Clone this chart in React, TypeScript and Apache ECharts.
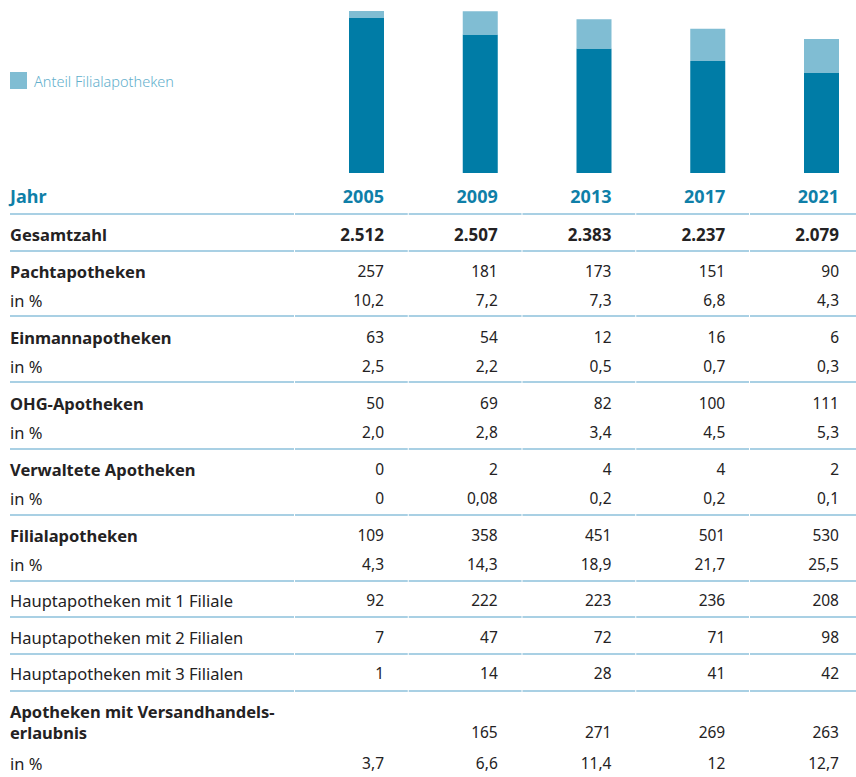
import React, { useEffect, useRef } from "react";
import * as echarts from "echarts";

const years = ["2005", "2009", "2013", "2017", "2021"];
const gesamtzahl = [2512, 2507, 2383, 2237, 2079];
const pachtapotheken = [257, 181, 173, 151, 90];
const pachtProzent = ["10,2", "7,2", "7,3", "6,8", "4,3"];
const einmannapotheken = [63, 54, 12, 16, 6];
const einmannProzent = ["2,5", "2,2", "0,5", "0,7", "0,3"];
const ohgApotheken = [50, 69, 82, 100, 111];
const ohgProzent = ["2,0", "2,8", "3,4", "4,5", "5,3"];
const verwalteteApotheken = [0, 2, 4, 4, 2];
const verwalteteProzent = ["0", "0,08", "0,2", "0,2", "0,1"];
const filialapotheken = [109, 358, 451, 501, 530];
const filialProzent = ["4,3", "14,3", "18,9", "21,7", "25,5"];
const hauptMit1 = [92, 222, 223, 236, 208];
const hauptMit2 = [7, 47, 72, 71, 98];
const hauptMit3 = [1, 14, 28, 41, 42];
const versandhandel: (number | null)[] = [null, 165, 271, 269, 263];
const versandProzent = ["3,7", "6,6", "11,4", "12", "12,7"];

const fmt = (v: number | null | string) => {
  if (v === null) return "";
  if (typeof v === "string") return v;
  const s = String(v);
  return s.replace(/\B(?=(\d{3})+(?!\d))/g, ".");
};

const FONT = "'Noto Sans', sans-serif";
const DARK = "#007ca6";
const LIGHT = "#80bdd3";
const TEXT = "#242223";
const LINE = "#a9d0e4";
const BLUE_TEXT = "#0f7fa8";

type Row = { label: string[]; bold: boolean; values: (number | null | string)[]; y: number; boldValues?: boolean };

const rows: Row[] = [
  { label: ["Gesamtzahl"], bold: true, values: gesamtzahl, y: 234, boldValues: true },
  { label: ["Pachtapotheken"], bold: true, values: pachtapotheken, y: 271 },
  { label: ["in %"], bold: false, values: pachtProzent, y: 300 },
  { label: ["Einmannapotheken"], bold: true, values: einmannapotheken, y: 337 },
  { label: ["in %"], bold: false, values: einmannProzent, y: 366 },
  { label: ["OHG-Apotheken"], bold: true, values: ohgApotheken, y: 403 },
  { label: ["in %"], bold: false, values: ohgProzent, y: 432 },
  { label: ["Verwaltete Apotheken"], bold: true, values: verwalteteApotheken, y: 469 },
  { label: ["in %"], bold: false, values: verwalteteProzent, y: 498 },
  { label: ["Filialapotheken"], bold: true, values: filialapotheken, y: 535 },
  { label: ["in %"], bold: false, values: filialProzent, y: 564 },
  { label: ["Hauptapotheken mit 1 Filiale"], bold: false, values: hauptMit1, y: 600 },
  { label: ["Hauptapotheken mit 2 Filialen"], bold: false, values: hauptMit2, y: 637 },
  { label: ["Hauptapotheken mit 3 Filialen"], bold: false, values: hauptMit3, y: 673 },
  { label: ["Apotheken mit Versandhandels-", "erlaubnis"], bold: true, values: versandhandel, y: 732 },
  { label: ["in %"], bold: false, values: versandProzent, y: 763 },
];

const separatorYs = [214, 251, 316, 382, 449, 515, 581, 617, 654, 691];

export default function App() {
  const ref = useRef<HTMLDivElement>(null);
  useEffect(() => {
    if (!ref.current) return;
    const chart = echarts.init(ref.current, null, { renderer: "svg" });
    const rest = gesamtzahl.map((g, i) => g - filialapotheken[i]);
    chart.setOption({
      animation: false,
      backgroundColor: "#ffffff",
      legend: {
        data: ["Anteil Filialapotheken"],
        left: 10,
        top: 72,
        padding: 0,
        icon: "rect",
        itemWidth: 17,
        itemHeight: 17,
        itemGap: 0,
        selectedMode: false,
        textStyle: { color: "#62afcc", fontFamily: FONT, fontSize: 14.5, fontWeight: 300, padding: [0, 0, 0, 2] },
      },
      grid: { left: 366.5, right: 34.5, top: 5.32, height: 167.68, containLabel: false },
      xAxis: {
        type: "category",
        data: years,
        boundaryGap: false,
        axisLine: { show: false },
        axisTick: { show: false },
        axisLabel: { show: false },
      },
      yAxis: { type: "value", min: 0, max: 2600, show: false, splitLine: { show: false } },
      series: [
        { name: "Übrige Apotheken", type: "bar", stack: "a", data: rest, barWidth: 35, itemStyle: { color: DARK } },
        { name: "Anteil Filialapotheken", type: "bar", stack: "a", data: filialapotheken, barWidth: 35, itemStyle: { color: LIGHT } },
      ],
    });
    const centers = years.map((_, i) => chart.convertToPixel({ xAxisIndex: 0 }, i) as number);
    const rightEdges = centers.map((c) => c + 17.5);
    const bounds = [10, ...centers.map((c) => c - 72.5), 856];
    const elements: any[] = [];
    elements.push({
      type: "text",
      style: { text: "Jahr", x: 10, y: 196, fill: BLUE_TEXT, fontFamily: FONT, fontSize: 18, fontWeight: "bold", verticalAlign: "middle", align: "left" },
    });
    years.forEach((yr, i) => {
      elements.push({
        type: "text",
        style: { text: yr, x: rightEdges[i], y: 196, fill: BLUE_TEXT, fontFamily: FONT, fontSize: 18, fontWeight: "bold", verticalAlign: "middle", align: "right" },
      });
    });
    separatorYs.forEach((y) => {
      for (let k = 0; k < bounds.length - 1; k++) {
        elements.push({
          type: "rect",
          shape: { x: bounds[k] + (k === 0 ? 0 : 1), y: y - 1, width: bounds[k + 1] - bounds[k] - (k === 0 ? 0 : 1), height: 2 },
          style: { fill: LINE },
        });
      }
    });
    rows.forEach((r) => {
      const n = r.label.length;
      r.label.forEach((t, j) => {
        elements.push({
          type: "text",
          style: {
            text: t, x: 10, y: r.y - (n - 1 - j) * 21, fill: TEXT, fontFamily: FONT, fontSize: 16.5,
            fontWeight: r.bold ? "bold" : "normal", verticalAlign: "middle", align: "left",
          },
        });
      });
      r.values.forEach((v, i) => {
        elements.push({
          type: "text",
          style: {
            text: fmt(v), x: rightEdges[i], y: r.y, fill: TEXT, fontFamily: FONT,
            fontSize: r.boldValues ? 17 : 15.5,
            fontWeight: r.boldValues ? "bold" : "normal", verticalAlign: "middle", align: "right",
          },
        });
      });
    });
    chart.setOption({ graphic: { elements } });
    return () => chart.dispose();
  }, []);
  return <div ref={ref} style={{ position: "absolute", left: 0, top: 0, width: 856, height: 777, background: "#fff" }} />;
}
